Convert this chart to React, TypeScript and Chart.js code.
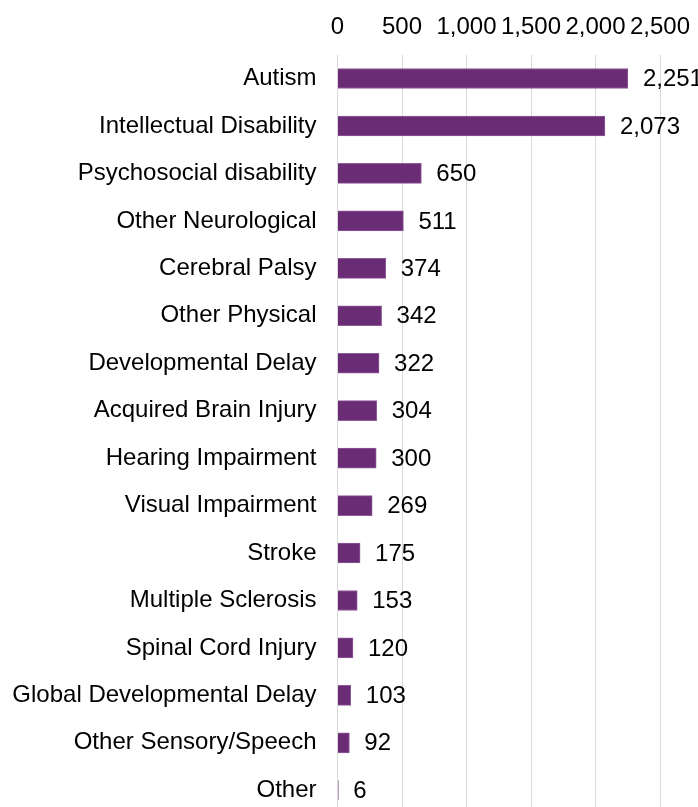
import React, { useEffect, useRef } from "react";
import { Chart, registerables } from "chart.js";

Chart.register(...registerables);

const categories: string[] = [
  "Autism",
  "Intellectual Disability",
  "Psychosocial disability",
  "Other Neurological",
  "Cerebral Palsy",
  "Other Physical",
  "Developmental Delay",
  "Acquired Brain Injury",
  "Hearing Impairment",
  "Visual Impairment",
  "Stroke",
  "Multiple Sclerosis",
  "Spinal Cord Injury",
  "Global Developmental Delay",
  "Other Sensory/Speech",
  "Other",
];

const values: number[] = [2251, 2073, 650, 511, 374, 342, 322, 304, 300, 269, 175, 153, 120, 103, 92, 6];

const xTicks: number[] = [0, 500, 1000, 1500, 2000, 2500];

const FONT = "'Liberation Sans', Arial, sans-serif";
const fmt = (v: number) => v.toLocaleString("en-US");

const valueLabels = {
  id: "valueLabels",
  afterDatasetsDraw(chart: any) {
    const ctx = chart.ctx;
    const meta = chart.getDatasetMeta(0);
    ctx.save();
    ctx.font = `24px ${FONT}`;
    ctx.fillStyle = "#000000";
    ctx.textAlign = "left";
    ctx.textBaseline = "middle";
    meta.data.forEach((bar: any, i: number) => {
      ctx.fillText(fmt(values[i]), bar.x + 15, bar.y + 1);
    });
    ctx.restore();
  },
};

const zeroPad = (scale: any) => {
  scale.paddingTop = 0;
  scale.paddingBottom = 0;
  scale.paddingLeft = 0;
  scale.paddingRight = 0;
};

export default function App() {
  const ref = useRef<HTMLCanvasElement | null>(null);

  useEffect(() => {
    if (!ref.current) return;
    const chart = new Chart(ref.current, {
      type: "bar",
      data: {
        labels: categories,
        datasets: [
          {
            data: values,
            backgroundColor: "#6B2C76",
            borderColor: "#8E5A98",
            borderWidth: 1,
            barThickness: 20,
          },
        ],
      },
      options: {
        indexAxis: "y",
        responsive: false,
        animation: false,
        layout: { padding: { top: 0, right: 38, left: 0, bottom: 0 } },
        plugins: {
          legend: { display: false },
          tooltip: { enabled: false },
        },
        scales: {
          x: {
            position: "top",
            min: 0,
            max: 2500,
            afterBuildTicks: (scale: any) => {
              scale.ticks = xTicks.map((v) => ({ value: v }));
            },
            afterFit: zeroPad,
            ticks: {
              padding: 13,
              color: "#000000",
              font: { family: FONT, size: 24 },
              maxRotation: 0,
              autoSkip: false,
              callback: (v: any) => fmt(Number(v)),
            },
            grid: { color: "#D9D9D9", lineWidth: 1, drawTicks: false },
            border: { display: false },
          },
          y: {
            afterFit: (scale: any) => {
              zeroPad(scale);
              scale.width = 337.5;
            },
            ticks: {
              padding: 21,
              color: "#000000",
              font: { family: FONT, size: 24 },
              autoSkip: false,
            },
            grid: { display: false, drawTicks: false },
            border: { display: false },
          },
        },
      },
      plugins: [valueLabels],
    });
    return () => chart.destroy();
  }, []);

  return (
    <div
      style={{
        position: "fixed",
        top: 0,
        left: 0,
        width: 698,
        height: 807,
        overflow: "hidden",
        background: "#ffffff",
      }}
    >
      <canvas ref={ref} width={698} height={814} style={{ display: "block" }} />
    </div>
  );
}
